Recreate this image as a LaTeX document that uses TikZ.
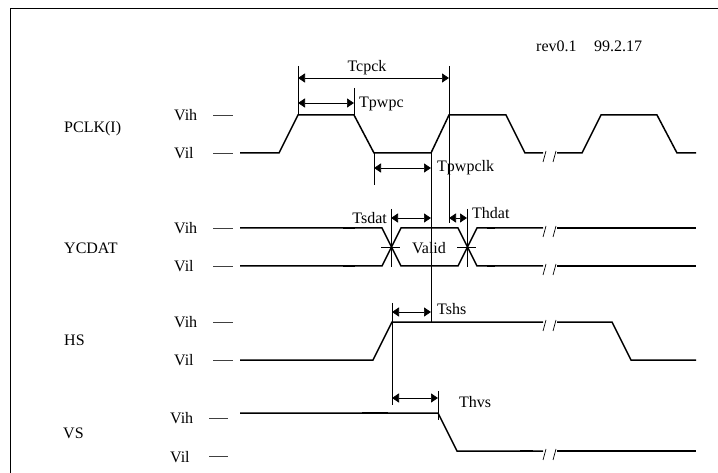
\documentclass[tikz,border=0pt]{standalone}
\usepackage{fontspec}
\setmainfont{Liberation Serif}
\usetikzlibrary{arrows.meta}

\tikzset{
  sig/.style={line width=1.5pt, line join=miter},
  seam/.style={line width=2.3pt},
  tick/.style={line width=0.7pt},
  level/.style={line width=0.8pt, black!75},
  dim/.style={tick, arrows={Triangle[length=7pt,width=9pt]-Triangle[length=7pt,width=9pt]}},
  lbl/.style={inner sep=0pt, font=\fontsize{16}{19}\selectfont},
}

% break mark "/ /" at (x,y)
\newcommand{\sigbreak}[2]{%
  \draw[tick] (#1,#2+10) -- (#1+3,#2-1);
  \draw[tick] (#1+10,#2+10) -- (#1+13,#2-1);
}

\begin{document}
\begin{tikzpicture}[x=1pt,y=-1pt]
        \useasboundingbox (0,0) rectangle (718,473);

        % Frame
        \draw[line width=1pt] (10,473) -- (10,9) -- (718,9);

        % Revision
        \node[lbl, anchor=west] (rev) at (536,46) {rev0.1\hspace{1.1em}99.2.17};

        % Signal names
        \node[lbl, anchor=west] (pclk) at (64,129) {PCLK(I)};
        \node[lbl, anchor=west] (ycdat) at (64,248) {YCDAT};
        \node[lbl, anchor=west] (hs) at (64,340) {HS};
        \node[lbl, anchor=west] (vs) at (63,433) {VS};

        % Levels
        \foreach \yh/\yl/\n in {115/153/p, 228/266/y, 322/360/h} {
            \node[lbl, anchor=west] (vih\n) at (174,\yh) {Vih};
            \node[lbl, anchor=west] (vil\n) at (174,\yl) {Vil};
            \draw[level] (213,\yh) -- (233,\yh);
            \draw[level] (213,\yl) -- (233,\yl);
        }
        \node[lbl, anchor=west] (vihv) at (170,418) {Vih};
        \node[lbl, anchor=west] (vilv) at (170,457) {Vil};
        \draw[level] (209,418) -- (228,418);
        \draw[level] (209,456) -- (228,456);

        % PCLK
        \draw[sig] (240,153) -- (279,153) -- (298,115) -- (354,115) -- (374,153) -- (431,153)
            -- (449,115) -- (506,115) -- (525,153) -- (543,153);
        \draw[sig] (557,153) -- (582,153) -- (601,115) -- (657,115) -- (677,153) -- (696,153);
        \sigbreak{543}{152}

        % YCDAT
        \draw[sig] (240,228) -- (382,228) -- (401,266) -- (458,266) -- (477,228) -- (543,228);
        \draw[sig] (240,266) -- (382,266) -- (401,228) -- (458,228) -- (477,266) -- (543,266);
        \draw[sig] (557,228) -- (696,228);
        \draw[sig] (557,266) -- (696,266);
        \draw[seam] (343,228) -- (355,228) (343,266) -- (355,266);
        \draw[seam] (487,228) -- (495,228) (487,266) -- (495,266);
        \sigbreak{543}{227}
        \sigbreak{543}{265}
        \node[lbl] (valid) at (429,248) {Valid};
        \draw[tick] (381,247) -- (400,247);
        \draw[tick] (457,247) -- (476,247);

        % HS
        \draw[sig] (240,360) -- (373,360) -- (392,322) -- (543,322);
        \draw[sig] (557,322) -- (612,322) -- (631,360) -- (696,360);
        \sigbreak{543}{321}

        % VS
        \draw[sig] (240,413) -- (438,413) -- (457,451) -- (543,451);
        \draw[sig] (557,451) -- (696,451);
        \draw[seam] (362,413) -- (388,413);
        \draw[seam] (520,451) -- (533,451);
        \sigbreak{543}{450}

        % Extension lines
        \draw[tick] (298,66) -- (298,115);
        \draw[tick] (449,66) -- (449,223);
        \draw[tick] (354,88) -- (354,115);
        \draw[tick] (374,153) -- (374,185);
        \draw[tick] (431,153) -- (431,322);
        \draw[tick] (391,209) -- (391,267);
        \draw[tick] (467,209) -- (467,267);
        \draw[tick] (392,303) -- (392,405);
        \draw[tick] (438,391) -- (438,420);

        % Arrow ends
        \coordinate (cpckA) at (298,78);
        \coordinate (cpckB) at (449,78);
        \coordinate (pwpcA) at (298,103);
        \coordinate (pwpcB) at (354,103);
        \coordinate (pwpclkA) at (374,168);
        \coordinate (pwpclkB) at (431,168);
        \coordinate (sdatA) at (391,218);
        \coordinate (sdatB) at (431,218);
        \coordinate (hdatA) at (449,218);
        \coordinate (hdatB) at (467,218);
        \coordinate (shsA) at (392,312);
        \coordinate (shsB) at (431,312);
        \coordinate (hvsA) at (392,398);
        \coordinate (hvsB) at (438,398);

        % Timing arrows
        \draw[dim] (cpckA) -- (cpckB);
        \draw[dim] (pwpcA) -- (pwpcB);
        \draw[dim] (pwpclkA) -- (pwpclkB);
        \draw[dim] (sdatA) -- (sdatB);
        \draw[dim] (hdatA) -- (hdatB);
        \draw[dim] (shsA) -- (shsB);
        \draw[dim] (hvsA) -- (hvsB);

        % Timing labels
        \node[lbl] (tcpck) at (367,68) {Tcpck};
        \node[lbl, anchor=west] (tpwpc) at (359,104) {Tpwpc};
        \node[lbl, anchor=west] (tpwpclk) at (437,168) {Tpwpclk};
        \node[lbl, anchor=east] (tsdat) at (387,218) {Tsdat};
        \node[lbl, anchor=west] (thdat) at (472,213) {Thdat};
        \node[lbl, anchor=west] (tshs) at (437,309) {Tshs};
        \node[lbl, anchor=west] (thvs) at (459,402) {Thvs};
    \end{tikzpicture}
\end{document}
